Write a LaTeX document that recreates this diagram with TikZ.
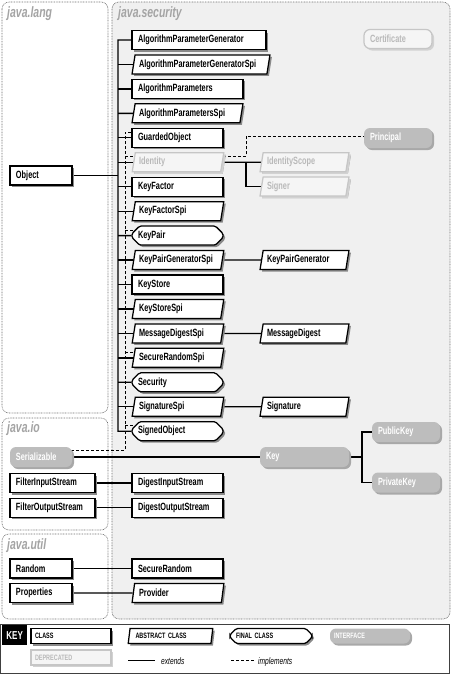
\documentclass[tikz,border=0pt]{standalone}
\usepackage{fontspec}
\setmainfont{Liberation Sans}
\newfontfamily\cf{Liberation Sans}[FakeStretch=0.70]
\usetikzlibrary{shapes.geometric,shapes.misc,shadows}
\definecolor{pkgbg}{HTML}{F0F0F0}
\definecolor{pkgline}{HTML}{6E6E6E}
\definecolor{pkgtext}{HTML}{A4A4A4}
\definecolor{ifill}{HTML}{BDBDBD}
\definecolor{depline}{HTML}{C6C6C6}
\definecolor{deptext}{HTML}{B9B9B9}
\definecolor{depfill}{HTML}{F5F5F5}
\definecolor{shade}{HTML}{8A8A8A}
\definecolor{ishade}{HTML}{A8A8A8}
\definecolor{dshade}{HTML}{D2D2D2}
\pgfdeclarelayer{pkg}
\pgfdeclarelayer{edges}
\pgfsetlayers{pkg,edges,main}
\begin{document}
\begin{tikzpicture}[x=1pt,y=-1pt,
  shd/.style={drop shadow={shadow xshift=2pt,shadow yshift=-2pt,fill=#1,opacity=1}},
  lbl/.style={font=\cf\bfseries\fontsize{10.5}{12}\selectfont,inner xsep=0pt,inner ysep=0pt,align=left},
  cls/.style={lbl,shd=shade,rectangle,draw=black,fill=white,line width=1.25pt,minimum height=19pt,minimum width=#1,text width=#1-12pt},
  abs/.style={lbl,shd=shade,trapezium,trapezium left angle=74,trapezium right angle=106,trapezium stretches=true,draw=black,fill=white,line width=1.25pt,minimum height=19pt,minimum width=#1,text width=#1-14pt},
  fin/.style={lbl,shd=shade,chamfered rectangle,chamfered rectangle xsep=4pt,rounded corners=1.5pt,draw=black,fill=white,line width=1.25pt,minimum height=19pt,minimum width=#1,text width=#1-12pt},
  intf/.style={lbl,shd=ishade,rectangle,rounded corners=6pt,fill=ifill,text=white,minimum height=20pt,minimum width=#1,text width=#1-12pt},
  dabs/.style={abs=#1,shd=dshade,draw=depline,fill=depfill,text=deptext},
  dintf/.style={lbl,shd=dshade,rectangle,rounded corners=6pt,draw=depline,line width=1.25pt,fill=depfill,text=deptext,minimum height=19pt,minimum width=#1,text width=#1-12pt},
  dcls/.style={cls=#1,shd=dshade,draw=depline,fill=depfill,text=deptext},
  small/.style={font=\cf\bfseries\fontsize{7.8}{9}\selectfont,minimum height=15pt},
  pkg/.style={draw=pkgline,line width=0.6pt,dash pattern=on 0.8pt off 0.8pt,rounded corners=7pt},
  pkgl/.style={font=\cf\bfseries\itshape\fontsize{15}{16}\selectfont,text=pkgtext,inner sep=0pt,anchor=base west},
  ext/.style={draw=black,line width=1.3pt},
  impl/.style={draw=black,line width=0.8pt,dash pattern=on 3pt off 2pt}
]
\useasboundingbox (0,0) rectangle (452,675);

% packages
\begin{pgfonlayer}{pkg}
\draw[pkg,fill=pkgbg] (112,2) rectangle (450,619);
\draw[pkg,fill=white] (2,2) rectangle (108,413);
\draw[pkg,fill=white] (2,418) rectangle (108,530);
\draw[pkg,fill=white] (2,534) rectangle (108,619);
\end{pgfonlayer}
\node[pkgl] (Tlang) at (7,17) {java.lang};
\node[pkgl] (Tsec) at (118,17) {java.security};
\node[pkgl] (Tio) at (7,432) {java.io};
\node[pkgl] (Tutil) at (7,549) {java.util};

% java.security left column
\node[cls=134] (APG) at (199,40) {AlgorithmParameterGenerator};
\node[abs=138] (APGS) at (201,64.45) {AlgorithmParameterGeneratorSpi};
\node[cls=111] (AP) at (187.5,88.9) {AlgorithmParameters};
\node[abs=111] (APS) at (187.5,113.35) {AlgorithmParametersSpi};
\node[cls=91] (GO) at (177.5,137.8) {GuardedObject};
\node[dabs=92] (Identity) at (178,162.25) {Identity};
\node[cls=91] (KF) at (177.5,186.7) {KeyFactor};
\node[abs=92] (KFS) at (178,211.15) {KeyFactorSpi};
\node[fin=91] (KP) at (177.5,235.6) {KeyPair};
\node[abs=92] (KPGS) at (178,260.05) {KeyPairGeneratorSpi};
\node[cls=91] (KS) at (177.5,284.5) {KeyStore};
\node[abs=92] (KSS) at (178,308.95) {KeyStoreSpi};
\node[abs=92] (MDS) at (178,333.4) {MessageDigestSpi};
\node[abs=92] (SRS) at (178,357.85) {SecureRandomSpi};
\node[fin=91] (Sec) at (177.5,382.3) {Security};
\node[abs=92] (SS) at (178,406.75) {SignatureSpi};
\node[fin=91] (SO) at (177.5,431.2) {SignedObject};

% java.security right column
\node[dintf=68] (Cert) at (398,39) {Certificate};
\node[intf=68] (Principal) at (398,138) {Principal};
\node[dabs=89] (IS) at (304.5,162.25) {IdentityScope};
\node[dabs=89] (Signer) at (304.5,186.5) {Signer};
\node[abs=89] (KPG) at (304.5,260.05) {KeyPairGenerator};
\node[abs=89] (MD) at (304.5,333.4) {MessageDigest};
\node[abs=89] (Sig) at (304.5,406.75) {Signature};
\node[intf=89] (Key) at (304.5,457) {Key};
\node[intf=68] (PubK) at (406,432) {PublicKey};
\node[intf=68] (PrivK) at (406,482.5) {PrivateKey};

% other packages
\node[cls=62] (Object) at (41,175.5) {Object};
\node[intf=62] (Ser) at (41,457) {Serializable};
\node[cls=85] (FIS) at (52.5,483) {FilterInputStream};
\node[cls=85] (FOS) at (52.5,507.75) {FilterOutputStream};
\node[cls=91] (DIS) at (177.5,483) {DigestInputStream};
\node[cls=91] (DOS) at (177.5,507.75) {DigestOutputStream};
\node[cls=62] (Random) at (41,568.5) {Random};
\node[cls=62] (Props) at (41,593) {Properties};
\node[cls=91] (SR) at (177.5,568.5) {SecureRandom};
\node[abs=92] (Prov) at (178,593) {Provider};

% connectors
\begin{pgfonlayer}{edges}
\coordinate (tTop) at (118,40);
\coordinate (tBot) at (118,431.2);
\draw[ext] (APG) -- (tTop) -- (tBot) -- (SO);
\foreach \n in {APGS,AP,APS,GO,Identity,KF,KFS,KP,KPGS,KS,KSS,MDS,SRS,Sec,SS}
  \draw[ext] (\n -| tTop) -- (\n);
\draw[ext] (Object) -- (Object -| tTop);

\coordinate (iTop) at (125,132);
\coordinate (iBot) at (125,450);
\draw[impl] (Ser.center |- iBot) -- (iBot) -- (iTop) -- (GO.center |- iTop);
\foreach \n/\s in {Identity/6,KP/5.5,SRS/5.5,SO/5.5}
  \draw[impl] ([yshift=\s pt]\n.center -| iTop) -- ([yshift=\s pt]\n.center);

\coordinate (pj) at (246,136);
\draw[impl] ([yshift=6pt]Identity.center) -| (pj) -- (Principal.center |- pj);
\coordinate (ij) at (246,162.25);
\draw[ext] (Identity) -- (IS);
\draw[ext] (ij) |- (Signer.west);

\draw[ext] (KPGS) -- (KPG);
\draw[ext] (MDS) -- (MD);
\draw[ext] (SS) -- (Sig);
\draw[ext] (Ser) -- (Key);
\coordinate (kj) at (362,457);
\draw[ext] (Key) -- (kj);
\draw[ext] (PubK.west) -| (kj) |- (PrivK.west);
\draw[ext] (FIS) -- (DIS);
\draw[ext] (FOS) -- (DOS);
\draw[ext] (Random) -- (SR);
\draw[ext] (Props) -- (Prov);
\end{pgfonlayer}

% key
\draw[draw=black!75,line width=0.8pt] (0.5,624) rectangle (449.5,673);
\node[fill=black,text=white,font=\cf\bfseries\fontsize{11.5}{12}\selectfont,minimum width=25pt,minimum height=20pt,inner sep=0pt,anchor=north west] (KEY) at (2,625) {KEY};
\node[cls=80,small,text width=72pt] (kCls) at (71,636) {CLASS};
\node[abs=85,small,text width=70pt] (kAbs) at (170.5,636) {ABSTRACT CLASS};
\node[fin=82,small,text width=70pt] (kFin) at (271,636) {FINAL CLASS};
\node[intf=80,small,text width=72pt] (kInt) at (370,636) {INTERFACE};
\node[dcls=80,small,text width=72pt] (kDep) at (71,657.5) {DEPRECATED};
\coordinate (e1) at (128,660.5);
\coordinate (e2) at (155,660.5);
\draw[line width=0.9pt] (e1) -- (e2);
\node[anchor=base west,inner sep=0pt,font=\cf\itshape\fontsize{9.5}{10}\selectfont] (kExt) at (161,664) {extends};
\coordinate (i1) at (231,660.5);
\coordinate (i2) at (254,660.5);
\draw[line width=0.8pt,dash pattern=on 3pt off 2pt] (i1) -- (i2);
\node[anchor=base west,inner sep=0pt,font=\cf\itshape\fontsize{9.5}{10}\selectfont] (kImp) at (258,664) {implements};
\end{tikzpicture}
\end{document}
